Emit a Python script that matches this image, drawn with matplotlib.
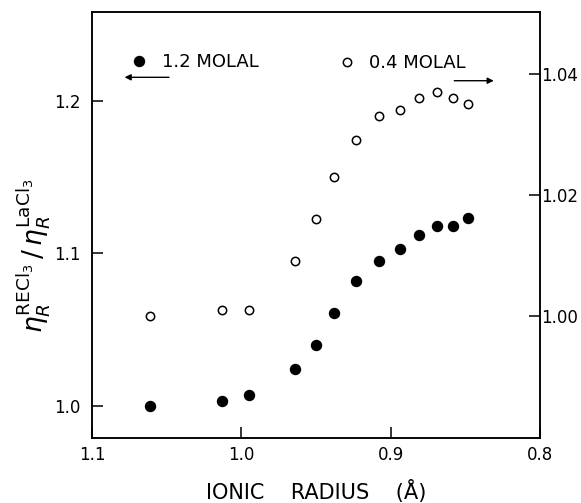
import matplotlib
matplotlib.use("Agg")
import matplotlib.pyplot as plt
from matplotlib.lines import Line2D

plt.rcParams["font.family"] = ["DejaVu Sans"]
plt.rcParams["mathtext.fontset"] = "dejavusans"

# ionic radii (Å) of La, Pr, Nd, Sm, Eu, Gd, Tb, Dy, Ho, Er, Tm, Yb, Lu
radius = [1.061, 1.013, 0.995, 0.964, 0.950, 0.938, 0.923, 0.908, 0.894, 0.881, 0.869, 0.858, 0.848]
# relative viscosity ratio, 1.2 molal (left axis)
ratio_12 = [1.000, 1.003, 1.007, 1.024, 1.040, 1.061, 1.082, 1.095, 1.103, 1.112, 1.118, 1.118, 1.123]
# relative viscosity ratio, 0.4 molal (right axis)
ratio_04 = [1.000, 1.001, 1.001, 1.009, 1.016, 1.023, 1.029, 1.033, 1.034, 1.036, 1.037, 1.036, 1.035]

x_ticks = [1.1, 1.0, 0.9, 0.8]
left_ticks = [1.0, 1.1, 1.2]
right_ticks = [1.00, 1.02, 1.04]

fig = plt.figure(figsize=(5.81, 5.03), dpi=100)
ax = fig.add_axes([92 / 581, 65 / 503, 448 / 581, 426 / 503])
ax2 = ax.twinx()

ax.plot(radius, ratio_12, "o", color="black", ms=7.2, zorder=3)
ax2.plot(radius, ratio_04, "o", mfc="white", mec="black", mew=1.1, ms=6.0, zorder=3)

ax.set_xlim(1.1, 0.8)
ax.set_ylim(0.979, 1.258)
ax2.set_ylim(0.9798, 1.0502)

ax.set_xticks(x_ticks)
ax.set_xticklabels([f"{v:.1f}" for v in x_ticks])
ax.set_yticks(left_ticks)
ax.set_yticklabels([f"{v:.1f}" for v in left_ticks])
ax2.set_yticks(right_ticks)
ax2.set_yticklabels([f"{v:.2f}" for v in right_ticks])

ax.tick_params(axis="x", direction="in", length=8, width=1.1, labelsize=12, pad=6, top=False)
ax.tick_params(axis="y", direction="in", length=8, width=1.1, labelsize=12, pad=8, right=False)
ax2.tick_params(axis="y", direction="in", length=8, width=1.1, labelsize=12, pad=1)
for a in (ax, ax2):
    for s in a.spines.values():
        s.set_linewidth(1.1)

ax.set_xlabel("IONIC    RADIUS    (Å)", fontsize=15, labelpad=11)
fig.text(34 / 581, 1 - 256 / 503,
         r"$\eta_R^{\mathrm{RECl}_3}\,/\,\eta_R^{\mathrm{LaCl}_3}$",
         rotation=90, ha="center", va="center", fontsize=19)

# legend keys
h12 = Line2D([], [], ls="none", marker="o", color="black", ms=7.2)
h04 = Line2D([], [], ls="none", marker="o", mfc="white", mec="black", mew=1.1, ms=6.0)
ax.legend(handles=[h12], labels=["1.2 MOLAL"], loc="center left",
          bbox_to_anchor=(0.0855, 0.883), frameon=False, fontsize=13,
          handlelength=1, handletextpad=0.74, borderpad=0, borderaxespad=0)
ax2.legend(handles=[h04], labels=["0.4 MOLAL"], loc="center left",
           bbox_to_anchor=(0.548, 0.880), frameon=False, fontsize=13,
           handlelength=1, handletextpad=0.74, borderpad=0, borderaxespad=0)

arrow = dict(arrowstyle="-|>", lw=1.0, color="black", mutation_scale=9)
ax.annotate("", xy=(0.0665, 0.8467), xytext=(0.178, 0.8467),
            xycoords="axes fraction", arrowprops=arrow)
ax.annotate("", xy=(0.903, 0.8387), xytext=(0.8025, 0.8387),
            xycoords="axes fraction", arrowprops=arrow)

fig.savefig("out.png", dpi=100)
